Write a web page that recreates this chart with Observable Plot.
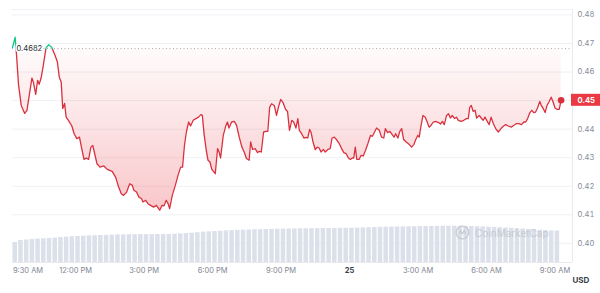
<!DOCTYPE html>
<html><head><meta charset="utf-8">
<script src="https://cdn.jsdelivr.net/npm/d3@7"></script>
<script src="https://cdn.jsdelivr.net/npm/@observablehq/plot@0.6"></script>
<style>
html,body{margin:0;padding:0;background:#fff;}
#chart{position:relative;width:600px;height:293px;font-family:Inter,"Noto Sans",sans-serif;}
#chart svg{position:absolute;left:0;top:0;}
#wm{position:absolute;left:455px;top:225px;display:flex;align-items:center;gap:5px;color:#c3c8d1;font:10px Inter,sans-serif;opacity:0.9;}
</style></head><body><div id="chart"></div>
<script>
// ---- data ----
const startISO = "2024-04-24T09:14:00Z";
const endISO = "2024-04-25T09:46:00Z";
const minutes = [0,7,11,16,23,32,38,44,51,55,61,66,70,75,81,88,95,103,112,118,123,128,132,137,141,147,156,162,169,176,182,188,194,200,206,211,215,222,230,240,249,262,271,279,286,292,300,308,315,319,326,332,339,343,350,356,363,371,378,387,393,398,404,409,413,420,428,435,442,447,452,457,463,468,475,482,489,495,499,504,510,514,519,524,533,539,543,547,554,561,565,569,576,583,589,596,603,609,615,622,626,631,638,644,648,654,660,666,671,676,681,688,694,699,705,711,718,723,728,734,739,745,750,754,760,766,772,776,781,785,790,796,801,806,811,817,822,829,835,840,846,853,859,865,871,877,883,888,893,897,901,905,911,916,922,928,934,941,946,951,957,964,970,976,980,986,992,998,1003,1007,1013,1018,1023,1028,1035,1043,1049,1055,1060,1065,1069,1074,1079,1085,1090,1095,1100,1106,1112,1120,1125,1130,1135,1141,1146,1151,1156,1162,1167,1172,1179,1186,1193,1198,1202,1206,1211,1216,1220,1227,1232,1237,1242,1248,1253,1258,1264,1270,1277,1284,1291,1296,1303,1311,1317,1324,1331,1338,1344,1349,1354,1360,1365,1370,1375,1380,1386,1389,1395,1400,1405,1410,1416,1421,1426,1432,1437,1442];
const prices = [0.4686,0.4722,0.4652,0.4553,0.4483,0.4455,0.4466,0.4518,0.4579,0.4564,0.4522,0.4571,0.4557,0.4578,0.4623,0.4684,0.4696,0.4687,0.4658,0.4635,0.4582,0.4565,0.4472,0.4490,0.4442,0.4431,0.4411,0.4384,0.4367,0.4372,0.4332,0.4294,0.4299,0.4294,0.4337,0.4343,0.4320,0.4279,0.4267,0.4271,0.4259,0.4252,0.4232,0.4197,0.4174,0.4168,0.4180,0.4209,0.4203,0.4186,0.4180,0.4162,0.4157,0.4145,0.4151,0.4139,0.4133,0.4127,0.4133,0.4116,0.4133,0.4131,0.4151,0.4139,0.4122,0.4168,0.4203,0.4238,0.4267,0.4267,0.4343,0.4390,0.4425,0.4411,0.4431,0.4437,0.4442,0.4451,0.4448,0.4378,0.4320,0.4291,0.4285,0.4259,0.4244,0.4332,0.4320,0.4299,0.4378,0.4413,0.4425,0.4404,0.4425,0.4427,0.4413,0.4372,0.4337,0.4320,0.4297,0.4291,0.4355,0.4329,0.4332,0.4318,0.4322,0.4320,0.4390,0.4392,0.4392,0.4477,0.4489,0.4483,0.4448,0.4477,0.4504,0.4493,0.4469,0.4462,0.4396,0.4431,0.4425,0.4404,0.4437,0.4396,0.4384,0.4369,0.4371,0.4369,0.4399,0.4388,0.4355,0.4328,0.4337,0.4334,0.4320,0.4329,0.4320,0.4329,0.4332,0.4369,0.4372,0.4361,0.4349,0.4332,0.4318,0.4314,0.4299,0.4294,0.4299,0.4299,0.4337,0.4294,0.4294,0.4308,0.4306,0.4326,0.4349,0.4378,0.4375,0.4388,0.4404,0.4396,0.4372,0.4369,0.4402,0.4388,0.4392,0.4381,0.4372,0.4384,0.4369,0.4392,0.4402,0.4364,0.4355,0.4346,0.4337,0.4346,0.4364,0.4378,0.4372,0.4413,0.4448,0.4442,0.4425,0.4407,0.4413,0.4425,0.4427,0.4423,0.4418,0.4427,0.4416,0.4448,0.4454,0.4439,0.4448,0.4437,0.4442,0.4431,0.4427,0.4431,0.4437,0.4437,0.4477,0.4483,0.4462,0.4466,0.4439,0.4448,0.4439,0.4431,0.4442,0.4427,0.4416,0.4442,0.4419,0.4402,0.4390,0.4402,0.4411,0.4416,0.4411,0.4407,0.4413,0.4419,0.4419,0.4416,0.4425,0.4425,0.4437,0.4458,0.4466,0.4458,0.4460,0.4474,0.4497,0.4486,0.4472,0.4458,0.4483,0.4495,0.4512,0.4495,0.4474,0.4469,0.4469,0.4501];
const openPrice = 0.4682;
const lastPriceLabel = "0.45";
const yTicks = [0.40,0.41,0.42,0.43,0.44,0.45,0.46,0.47,0.48];
const yDomain = [0.3933,0.4819];
const xTickTimes = ["2024-04-24T09:30:00Z","2024-04-24T12:00:00Z","2024-04-24T15:00:00Z","2024-04-24T18:00:00Z","2024-04-24T21:00:00Z","2024-04-25T00:00:00Z","2024-04-25T03:00:00Z","2024-04-25T06:00:00Z","2024-04-25T09:00:00Z"];
const xTickLabels = ["9:30 AM","12:00 PM","3:00 PM","6:00 PM","9:00 PM","25","3:00 AM","6:00 AM","9:00 AM"];
const volumeStepMinutes = 15;
const volumes = [20.0,22.0,22.5,23.0,23.4,23.7,24.1,24.4,24.9,25.4,25.8,26.0,26.3,26.6,26.8,27.0,27.2,27.4,27.6,27.7,27.8,27.8,27.9,27.9,27.9,28.0,28.0,28.0,28.3,28.6,28.9,29.3,29.8,30.4,30.7,31.0,31.3,31.6,31.9,32.1,32.3,32.5,32.7,32.8,33.0,33.1,33.3,33.4,33.5,33.6,33.7,33.7,33.8,33.9,34.0,34.0,34.1,34.2,34.2,34.3,34.4,34.6,34.8,35.0,35.1,35.3,35.4,35.5,35.6,35.7,35.8,35.9,36.0,36.0,36.1,36.2,36.2,36.3,36.3,36.2,36.0,35.8,35.6,35.4,35.1,34.8,34.5,34.2,33.9,33.5,33.0,32.6,32.2,31.9,31.6,31.4];

// ---- build ----
const RED = "#d9303e", GREEN = "#16c784";
const t0 = new Date(startISO).getTime();
const data = minutes.map((m, i) => ({date: new Date(t0 + m * 60000), price: prices[i]}));
const last = data[data.length - 1];
const ticks = xTickTimes.map((s, i) => ({date: new Date(s), label: xTickLabels[i]}));
const vol = volumes.map((v, i) => ({start: new Date(t0 + i * volumeStepMinutes * 60000), end: new Date(t0 + (i + 1) * volumeStepMinutes * 60000), v}));
const xDomain = [new Date(startISO), new Date(endISO)];
const common = {width: 600, height: 293, marginLeft: 12, marginRight: 28, marginBottom: 31};

function defsMark(index, scales) {
  const y = scales.y;
  const yb = y(openPrice), ybot = y(0.412);
  const g = document.createElementNS("http://www.w3.org/2000/svg", "defs");
  g.innerHTML = `<linearGradient id="lineGrad" gradientUnits="userSpaceOnUse" x1="0" x2="0" y1="${yb - 0.5}" y2="${yb + 0.5}">
    <stop offset="0" stop-color="${GREEN}"/><stop offset="0.5" stop-color="${GREEN}"/>
    <stop offset="0.5" stop-color="${RED}"/><stop offset="1" stop-color="${RED}"/></linearGradient>
    <linearGradient id="areaGrad" gradientUnits="userSpaceOnUse" x1="0" x2="0" y1="${yb}" y2="${ybot}">
    <stop offset="0" stop-color="#ea3943" stop-opacity="0.02"/><stop offset="1" stop-color="#ea3943" stop-opacity="0.28"/></linearGradient>`;
  return g;
}
function priceBox(index, scales, values, dims) {
  const yv = scales.y(last.price);
  const r = document.createElementNS("http://www.w3.org/2000/svg", "rect");
  r.setAttribute("x", dims.width - dims.marginRight - 1);
  r.setAttribute("y", yv - 6);
  r.setAttribute("width", 30);
  r.setAttribute("height", 12);
  r.setAttribute("fill", "#ea3943");
  return r;
}

const pricePlot = Plot.plot({
  ...common, marginTop: 9,
  style: {background: "transparent", fontFamily: "Inter, sans-serif", fontSize: "7.5px"},
  x: {type: "utc", domain: xDomain, axis: null},
  y: {domain: yDomain, axis: null},
  marks: [
    defsMark,
    Plot.ruleY(yTicks, {stroke: "#eff1f4"}),
    Plot.ruleY([yDomain[1]], {stroke: "#eff1f4"}),
    Plot.ruleY([yDomain[0]], {stroke: "#e8eaee"}),
    Plot.ruleX([xDomain[1]], {stroke: "#e8eaee"}),
    Plot.areaY(data, {x: "date", y1: openPrice, y2: "price", fill: "url(#areaGrad)"}),
    Plot.ruleY([openPrice], {stroke: "#a3a9b3", strokeDasharray: "1,2.5"}),
    Plot.lineY(data, {x: "date", y: "price", stroke: "url(#lineGrad)", strokeWidth: 1.3}),
    Plot.dot([last], {x: "date", y: "price", r: 3.3, fill: RED}),
    Plot.text([openPrice], {frameAnchor: "left", y: d => d, text: d => d.toFixed(4), textAnchor: "start", dx: 4, fill: "#2b2f36", stroke: "white", strokeWidth: 3, fontSize: 7.6}),
    Plot.axisY(yTicks, {anchor: "right", label: null, tickSize: 0, tickPadding: 5, tickFormat: d => d.toFixed(2), color: "#868d9a", fontSize: 7.6}),
    priceBox,
    Plot.text([last], {y: "price", frameAnchor: "right", text: () => lastPriceLabel, textAnchor: "start", dx: 5, fill: "white", fontWeight: "bold", fontSize: 7.6}),
    Plot.text([ticks[0]], {x: "date", text: "label", frameAnchor: "bottom", textAnchor: "start", dx: -5.7, dy: 10, fill: "#7f8693"}),
    Plot.text(ticks.filter((d, i) => i > 0 && d.label !== "25"), {x: "date", text: "label", frameAnchor: "bottom", dy: 10, fill: "#7f8693"}),
    Plot.text(ticks.filter(d => d.label === "25"), {x: "date", text: "label", frameAnchor: "bottom", dy: 10, fill: "#3a3f48", fontWeight: "bold"}),
    Plot.text(["USD"], {frameAnchor: "bottom-right", textAnchor: "start", dy: 20, fill: "#3a3f48", fontWeight: "bold", fontSize: 8})
  ]
});

const volPlot = Plot.plot({
  ...common, marginTop: 162,
  style: {background: "transparent"},
  x: {type: "utc", domain: xDomain, axis: null},
  y: {domain: [0, 100], axis: null},
  marks: [
    Plot.rectY(vol, {x1: "start", x2: "end", y: "v", fill: "#dbe0ea", insetLeft: 0.5, insetRight: 0.7})
  ]
});

const chart = document.getElementById("chart");
chart.appendChild(pricePlot);
chart.appendChild(volPlot);
const wm = document.createElement("div");
wm.id = "wm";
wm.innerHTML = `<svg width="15" height="15" viewBox="0 0 15 15" style="position:static"><circle cx="7.5" cy="7.5" r="6.3" fill="none" stroke="#c3c8d1" stroke-width="1.3"/><path d="M3.8 9.5 L5.4 5.5 L7.3 8.6 L9.2 5.5 L10.9 9.5" fill="none" stroke="#c3c8d1" stroke-width="1.2"/></svg><span>CoinMarketCap</span>`;
chart.appendChild(wm);
</script></body></html>
